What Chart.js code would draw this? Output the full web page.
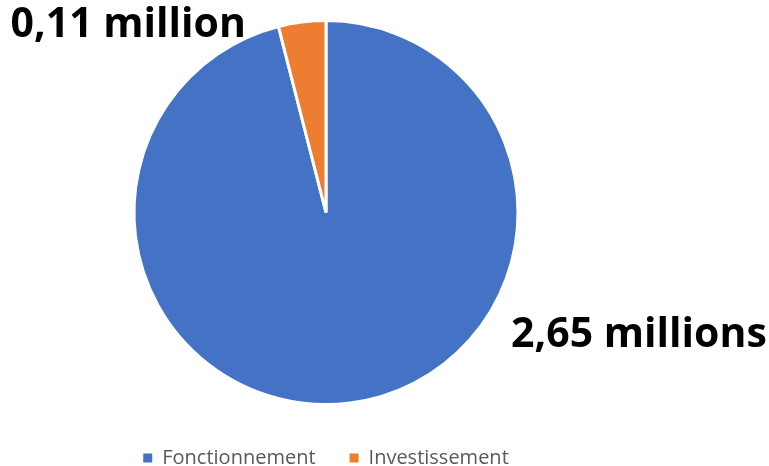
<!DOCTYPE html>
<html>
<head>
<meta charset="utf-8">
<script src="https://cdn.jsdelivr.net/npm/chart.js@4.4.0/dist/chart.umd.min.js"></script>
<style>
  html, body { margin: 0; padding: 0; background: #fff; }
  #wrap { width: 769px; height: 466px; }
</style>
</head>
<body>
<div id="wrap"><canvas id="pie"></canvas></div>
<script>
const categories = ["Fonctionnement", "Investissement"];
const values = [2.65, 0.11]; // millions
const colors = ["#4472C4", "#ED7D31"];

// where the value labels sit, in pie radii from the centre
const labelOffsets = [[1.63, 0.64], [-1.03, -0.975]];

function fmtMillions(v) {
  return v.toFixed(2).replace(".", ",") + (v >= 2 ? " millions" : " million");
}

const valueLabels = {
  id: "valueLabels",
  afterDatasetsDraw(chart) {
    const ctx = chart.ctx;
    const meta = chart.getDatasetMeta(0);
    ctx.save();
    ctx.font = "bold 41px 'Open Sans'";
    ctx.fillStyle = "#000";
    ctx.textAlign = "center";
    ctx.textBaseline = "middle";
    meta.data.forEach((arc, i) => {
      const r = arc.outerRadius;
      const [ox, oy] = labelOffsets[i];
      ctx.fillText(fmtMillions(values[i]), arc.x + ox * r, arc.y + oy * r);
    });
    ctx.restore();
  }
};

new Chart(document.getElementById("pie").getContext("2d"), {
  type: "pie",
  data: {
    labels: categories,
    datasets: [{
      data: values,
      backgroundColor: colors,
      borderColor: "#fff",
      borderWidth: 3
    }]
  },
  options: {
    responsive: true,
    maintainAspectRatio: false,
    animation: false,
    radius: 192,
    layout: { padding: { top: 11, left: 0, right: 117, bottom: -12 } },
    plugins: {
      tooltip: { enabled: false },
      legend: {
        position: "bottom",
        labels: {
          font: { family: "'Open Sans'", size: 20 },
          color: "#595959",
          boxWidth: 9,
          boxHeight: 9,
          padding: 34,
          generateLabels(chart) {
            const items = Chart.overrides.pie.plugins.legend.labels.generateLabels(chart);
            items.forEach(it => { it.lineWidth = 0; it.strokeStyle = it.fillStyle; });
            return items;
          }
        }
      }
    }
  },
  plugins: [valueLabels]
});
</script>
</body>
</html>
